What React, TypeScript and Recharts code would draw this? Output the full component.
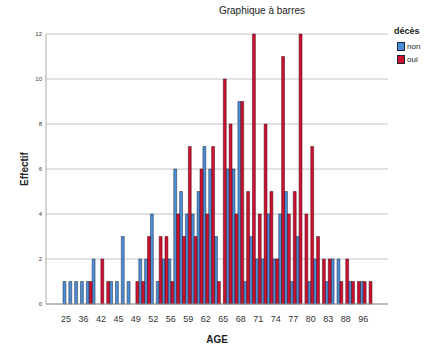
import { BarChart, Bar, XAxis, YAxis, CartesianGrid, Label } from "recharts";

const ages = [
  "25", "30", "34", "36", "38", "40", "42", "43", "44", "45", "46", "48", "49", "50",
  "51", "52", "53", "55", "56", "57", "58", "59", "60", "61", "62", "63", "64", "65",
  "66", "67", "68", "69", "70", "71", "72", "73", "74", "75", "76", "77", "78", "79",
  "80", "81", "82", "83", "85", "86", "88", "90", "92", "96", "98",
];

const nonCounts = [
  1, 1, 1, 1, 1, 2, 0, 0, 1, 1, 3, 1, 0, 2,
  2, 4, 1, 2, 2, 6, 5, 4, 4, 5, 7, 6, 3, 0,
  6, 6, 9, 1, 3, 2, 2, 4, 2, 4, 5, 1, 3, 0,
  1, 2, 0, 1, 2, 2, 0, 1, 0, 1, 0,
];

const ouiCounts = [
  0, 0, 0, 0, 1, 0, 2, 1, 0, 0, 0, 0, 1, 1,
  3, 0, 3, 3, 1, 4, 3, 7, 3, 6, 4, 7, 1, 10,
  8, 4, 9, 5, 12, 4, 8, 5, 2, 11, 4, 5, 12, 4,
  7, 3, 2, 2, 0, 1, 2, 1, 1, 1, 1,
];

const yTicks = [0, 2, 4, 6, 8, 10, 12];

const data = ages.map((age, i) => ({ age, non: nonCounts[i], oui: ouiCounts[i] }));

const FONT = "'Liberation Sans', Arial, sans-serif";
const BLUE = "#4a8fda";
const RED = "#cf1030";

export default function App() {
  return (
    <div
      style={{
        position: "absolute",
        left: 0,
        top: 0,
        width: 441,
        height: 355,
        background: "#fff",
        fontFamily: FONT,
      }}
    >
      <div
        style={{
          position: "absolute",
          left: 0,
          width: 524,
          top: 5,
          textAlign: "center",
          fontSize: 10,
          color: "#222",
        }}
      >
        Graphique à barres
      </div>

      {/* legend */}
      <div style={{ position: "absolute", left: 394, top: 26, fontSize: 9, color: "#222" }}>
        <div style={{ fontWeight: "bold", marginBottom: 4 }}>décès</div>
        {[
          ["non", BLUE],
          ["oui", RED],
        ].map(([name, color]) => (
          <div key={name} style={{ display: "flex", alignItems: "center", height: 13, fontSize: 8 }}>
            <span
              style={{
                display: "inline-block",
                width: 6,
                height: 7,
                background: color,
                border: "1px solid #1c2433",
                marginLeft: 3,
                marginRight: 2,
              }}
            />
            {name}
          </div>
        ))}
      </div>

      <BarChart
        width={441}
        height={355}
        data={data}
        margin={{ top: 34, right: 53, bottom: 0, left: 26 }}
        barCategoryGap={0}
        barGap={0}
        barSize={2.9}
      >
        <CartesianGrid stroke="#c4c4c4" vertical={false} />
        <XAxis
          dataKey="age"
          interval={2}
          tickLine={false}
          axisLine={{ stroke: "#999" }}
          padding={{ left: 17, right: 16 }}
          height={51}
          tickMargin={6}
          tick={{ fontSize: 9, fill: "#333", fontFamily: FONT }}
        >
          <Label
            value="AGE"
            position="insideBottom"
            offset={12}
            style={{ fontSize: 10, fontWeight: "bold", fill: "#222", fontFamily: FONT }}
          />
        </XAxis>
        <YAxis
          domain={[0, 12]}
          ticks={yTicks}
          width={20}
          tickLine={false}
          tickSize={0}
          tickMargin={4}
          axisLine={{ stroke: "#aaa" }}
          tick={{ fontSize: 6, fill: "#333", fontFamily: FONT }}
        >
          <Label
            value="Effectif"
            angle={-90}
            position="left"
            offset={2}
            style={{ fontSize: 10, fontWeight: "bold", fill: "#222", fontFamily: FONT, textAnchor: "middle" }}
          />
        </YAxis>
        <Bar dataKey="non" name="non" fill={BLUE} stroke="#1c2433" strokeWidth={0.5} isAnimationActive={false} />
        <Bar dataKey="oui" name="oui" fill={RED} stroke="#3a0a12" strokeWidth={0.5} isAnimationActive={false} />
      </BarChart>
    </div>
  );
}
